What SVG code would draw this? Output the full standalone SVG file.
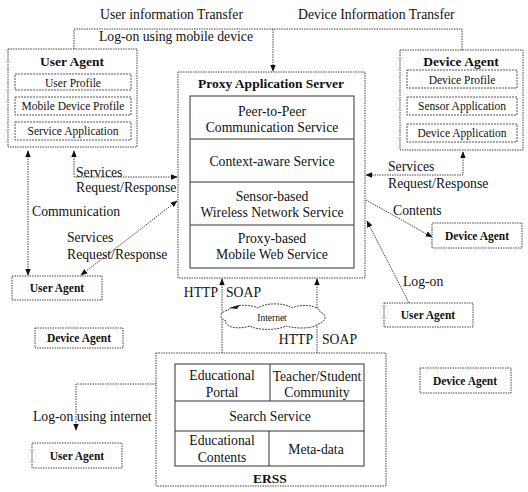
<svg xmlns="http://www.w3.org/2000/svg" width="528" height="492" viewBox="0 0 528 492">
<style>
text{font-family:"Liberation Serif","Times New Roman",serif;fill:#111}
.l{font-size:13.7px}
.s{font-size:11.5px}
.t{font-size:13.5px;font-weight:bold}
.b{font-size:11.5px;font-weight:bold}
.c{text-anchor:middle}
.box{fill:#fff;stroke:#444;stroke-width:1;stroke-dasharray:1.5 1}
.ibox{fill:#fff;stroke:#555;stroke-width:1;stroke-dasharray:2 1}
.solid{fill:#fff;stroke:#333;stroke-width:1}
.sep{stroke:#333;stroke-width:1;fill:none}
.con{fill:none;stroke:#444;stroke-width:1;stroke-dasharray:1.5 1}
</style>
<defs>
<marker id="ah" viewBox="0 0 10 10" refX="9" refY="5" markerWidth="7" markerHeight="7" markerUnits="userSpaceOnUse" orient="auto-start-reverse">
<path d="M0,1 L10,5 L0,9 Z" fill="#111"/>
</marker>
</defs>

<g id="connectors">
<path class="con" d="M74,49 V29 H462 V50"/>
<path class="con" d="M273,29 V71" marker-end="url(#ah)"/>
<path class="con" d="M28,151 V275" marker-start="url(#ah)" marker-end="url(#ah)"/>
<path class="con" d="M74,151 V177 H177" marker-start="url(#ah)" marker-end="url(#ah)"/>
<path class="con" d="M177,201 L81,275" marker-start="url(#ah)" marker-end="url(#ah)"/>
<path class="con" d="M463,152 V175 H366" marker-start="url(#ah)" marker-end="url(#ah)"/>
<path class="con" d="M366,200 L432,237" marker-end="url(#ah)"/>
<path class="con" d="M409,303 L367,221" marker-end="url(#ah)"/>
<path class="con" d="M222,279 V363" marker-start="url(#ah)" marker-end="url(#ah)"/>
<path class="con" d="M317,279 V363" marker-start="url(#ah)" marker-end="url(#ah)"/>
<path class="con" d="M76,430 V384 H174" marker-start="url(#ah)" marker-end="url(#ah)"/>
<text class="l" x="100" y="19">User information Transfer</text>
<text class="l" x="298" y="19">Device Information Transfer</text>
<text class="l" x="99" y="41">Log-on using mobile device</text>
<text class="l" x="76" y="177">Services</text>
<text class="l" x="76" y="192">Request/Response</text>
<text class="l" x="32" y="216">Communication</text>
<text class="l" x="67" y="242">Services</text>
<text class="l" x="67" y="259">Request/Response</text>
<text class="l" x="388" y="171">Services</text>
<text class="l" x="388" y="188">Request/Response</text>
<text class="l" x="393" y="215">Contents</text>
<text class="l" x="403" y="286">Log-on</text>
<text class="l" x="218" y="297" text-anchor="end">HTTP</text>
<text class="l" x="226" y="297">SOAP</text>
<text class="l" x="313" y="344" text-anchor="end">HTTP</text>
<text class="l" x="322" y="344">SOAP</text>
<text class="l" x="33" y="421">Log-on using internet</text>
</g>

<g id="internet">
<path d="M228,310 C236,303 252,305 258,308 C266,302 286,303 292,308 C302,303 320,306 320,312 C328,315 326,322 318,324 C312,330 292,328 286,326 C276,331 256,330 250,326 C238,330 224,327 226,321 C218,318 220,312 228,310 Z" fill="#fff" stroke="#444" stroke-width="1" stroke-dasharray="2 1"/>
<path d="M229,308 L240,305 L237,309 Z" fill="#222"/>
<text x="272" y="321" class="c" style="font-size:9.5px">Internet</text>
</g>

<g id="user-agent-top">
<rect class="box" x="8" y="49" width="129" height="98"/>
<text class="t c" x="72" y="66">User Agent</text>
<rect class="ibox" x="15" y="74" width="116" height="16"/>
<text class="s c" x="73" y="87">User Profile</text>
<rect class="ibox" x="15" y="97" width="116" height="18"/>
<text class="s c" x="73" y="110">Mobile Device Profile</text>
<rect class="ibox" x="15" y="122" width="116" height="18"/>
<text class="s c" x="73" y="135">Service Application</text>
</g>

<g id="device-agent-top">
<rect class="box" x="400" y="50" width="123" height="100"/>
<text class="t c" x="461" y="66">Device Agent</text>
<rect class="ibox" x="407" y="70" width="110" height="18"/>
<text class="s c" x="462" y="84">Device Profile</text>
<rect class="ibox" x="407" y="97" width="110" height="18"/>
<text class="s c" x="462" y="110">Sensor Application</text>
<rect class="ibox" x="407" y="124" width="110" height="18"/>
<text class="s c" x="462" y="137">Device Application</text>
</g>

<g id="proxy-server">
<rect class="box" x="178" y="72" width="187" height="206"/>
<text class="t c" x="271" y="88">Proxy Application Server</text>
<rect class="solid" x="190" y="96" width="164" height="172"/>
<path class="sep" d="M190,139 H354 M190,182 H354 M190,225 H354"/>
<text class="l c" x="272" y="116">Peer-to-Peer</text>
<text class="l c" x="272" y="132">Communication Service</text>
<text class="l c" x="272" y="166">Context-aware Service</text>
<text class="l c" x="272" y="201">Sensor-based</text>
<text class="l c" x="272" y="217">Wireless Network Service</text>
<text class="l c" x="272" y="243">Proxy-based</text>
<text class="l c" x="272" y="259">Mobile Web Service</text>
</g>

<g id="user-agent-left">
<rect class="box" x="12" y="276" width="90" height="24"/>
<text class="b c" x="57" y="292">User Agent</text>
</g>

<g id="device-agent-left">
<rect class="box" x="35" y="328" width="88" height="20"/>
<text class="b c" x="79" y="342">Device Agent</text>
</g>

<g id="device-agent-right">
<rect class="box" x="432" y="223" width="90" height="25"/>
<text class="b c" x="477" y="240">Device Agent</text>
</g>

<g id="user-agent-right">
<rect class="box" x="384" y="303" width="89" height="24"/>
<text class="b c" x="428" y="319">User Agent</text>
</g>

<g id="device-agent-bottom">
<rect class="box" x="420" y="368" width="91" height="25"/>
<text class="b c" x="465" y="385">Device Agent</text>
</g>

<g id="user-agent-bottom">
<rect class="box" x="32" y="443" width="90" height="25"/>
<text class="b c" x="77" y="460">User Agent</text>
</g>

<g id="erss">
<rect class="box" x="156" y="353" width="230" height="133"/>
<rect class="solid" x="175" y="364" width="189" height="102"/>
<path class="sep" d="M175,401 H364 M175,431 H364 M270,364 V401 M269,431 V466"/>
<text class="l c" x="222" y="380">Educational</text>
<text class="l c" x="222" y="397">Portal</text>
<text class="l c" x="317" y="381">Teacher/Student</text>
<text class="l c" x="317" y="397">Community</text>
<text class="l c" x="270" y="421">Search Service</text>
<text class="l c" x="222" y="445">Educational</text>
<text class="l c" x="222" y="462">Contents</text>
<text class="l c" x="316" y="454">Meta-data</text>
<text class="t c" x="270" y="483">ERSS</text>
</g>
</svg>
